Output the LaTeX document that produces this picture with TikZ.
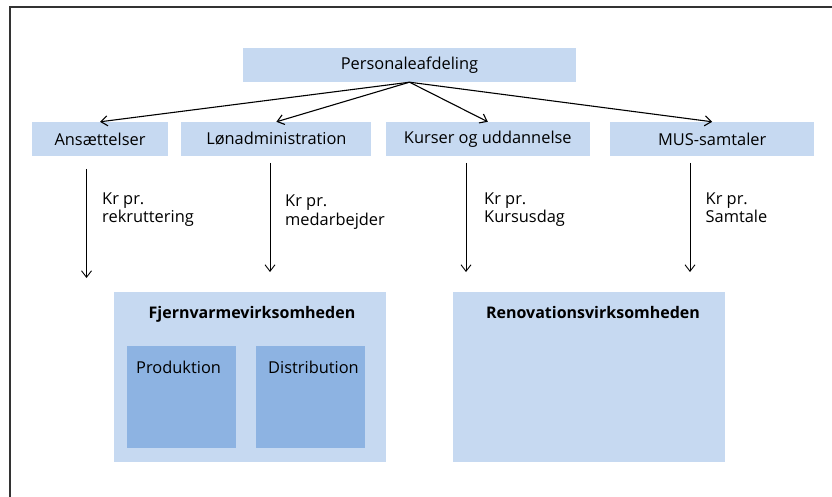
\documentclass[tikz,border=0pt]{standalone}
\usepackage{fontspec}
\setmainfont{Open Sans}
\usetikzlibrary{arrows.meta, positioning}
\definecolor{boxlight}{HTML}{C6D9F1}
\definecolor{boxdark}{HTML}{8DB3E2}

\begin{document}
\begin{tikzpicture}[x=1pt, y=-1pt]
	\tikzset{>={Straight Barb[length=6.5pt, width=10pt]}, node distance=13pt,
		every node/.style={font=\fontsize{16.4}{18.5}\selectfont, inner sep=0pt},
		unit/.style={fill=boxlight, minimum height=34pt},
		company/.style={fill=boxlight, minimum width=272pt, minimum height=170pt},
		division/.style={fill=boxdark, minimum width=109pt, minimum height=102pt},
		heading/.style={font=\fontsize{16}{18.5}\selectfont\bfseries, anchor=base},
		rate/.style={align=left, anchor=west},
		flow/.style={->, line width=1.1pt},
		charge/.style={->, line width=0.9pt}}
	\useasboundingbox (0,0) rectangle (832,497);

	% frame
	\draw[line width=2pt, black!80] (10,497) -- (10,7) -- (832,7);

	\node[unit, minimum width=333pt] (pers) at (409.5,65) {Personaleafdeling};
	\node[unit, minimum width=136pt] (ans) at (100,139) {Ansættelser};
	\node[unit, minimum width=190pt, right=of ans] (lon) {Lønadministration};
	\node[unit, minimum width=204pt, right=14pt of lon] (kurs) {Kurser og uddannelse};
	\node[unit, minimum width=204pt, right=20pt of kurs] (mus) {MUS-samtaler};

	\draw[flow] (pers.south) -- (ans.north);
	\draw[flow] (pers.south) -- (lon.north);
	\draw[flow] (pers.south) -- (kurs.north);
	\draw[flow] (pers.south) -- (mus.north);

	% fordeling
	\coordinate (ansfrom) at (86.5,169);
	\coordinate (ansto) at (86.5,278);
	\coordinate (lonfrom) at (270,163);
	\coordinate (lonto) at (270,272);
	\coordinate (kursfrom) at (466,163);
	\coordinate (kursto) at (466,272);
	\coordinate (musfrom) at (690,163);
	\coordinate (musto) at (690,272);
	\draw[charge] (ansfrom) -- (ansto);
	\draw[charge] (lonfrom) -- (lonto);
	\draw[charge] (kursfrom) -- (kursto);
	\draw[charge] (musfrom) -- (musto);

	\node[rate] (ansrate) at (102,209.5) {Kr pr.\\rekruttering};
	\node[rate] (lonrate) at (285,212) {Kr pr.\\medarbejder};
	\node[rate] (kursrate) at (484,209.5) {Kr pr.\\Kursusdag};
	\node[rate] (musrate) at (705.5,207.6) {Kr pr.\\Samtale};

	\node[company] (fjern) at (250,377) {};
	\node[company, right=67pt of fjern] (reno) {};
	\node[heading] (fjernname) at (252,318.5) {Fjernvarmevirksomheden};
	\node[heading] (renoname) at (593,318.5) {Renovationsvirksomheden};

	\node[division] (prod) at (181.5,397) {};
	\node[division, right=20pt of prod] (dist) {};
	\node[anchor=base west] (prodname) at (136,373) {Produktion};
	\node[anchor=base west] (distname) at (268,373) {Distribution};
\end{tikzpicture}
\end{document}
